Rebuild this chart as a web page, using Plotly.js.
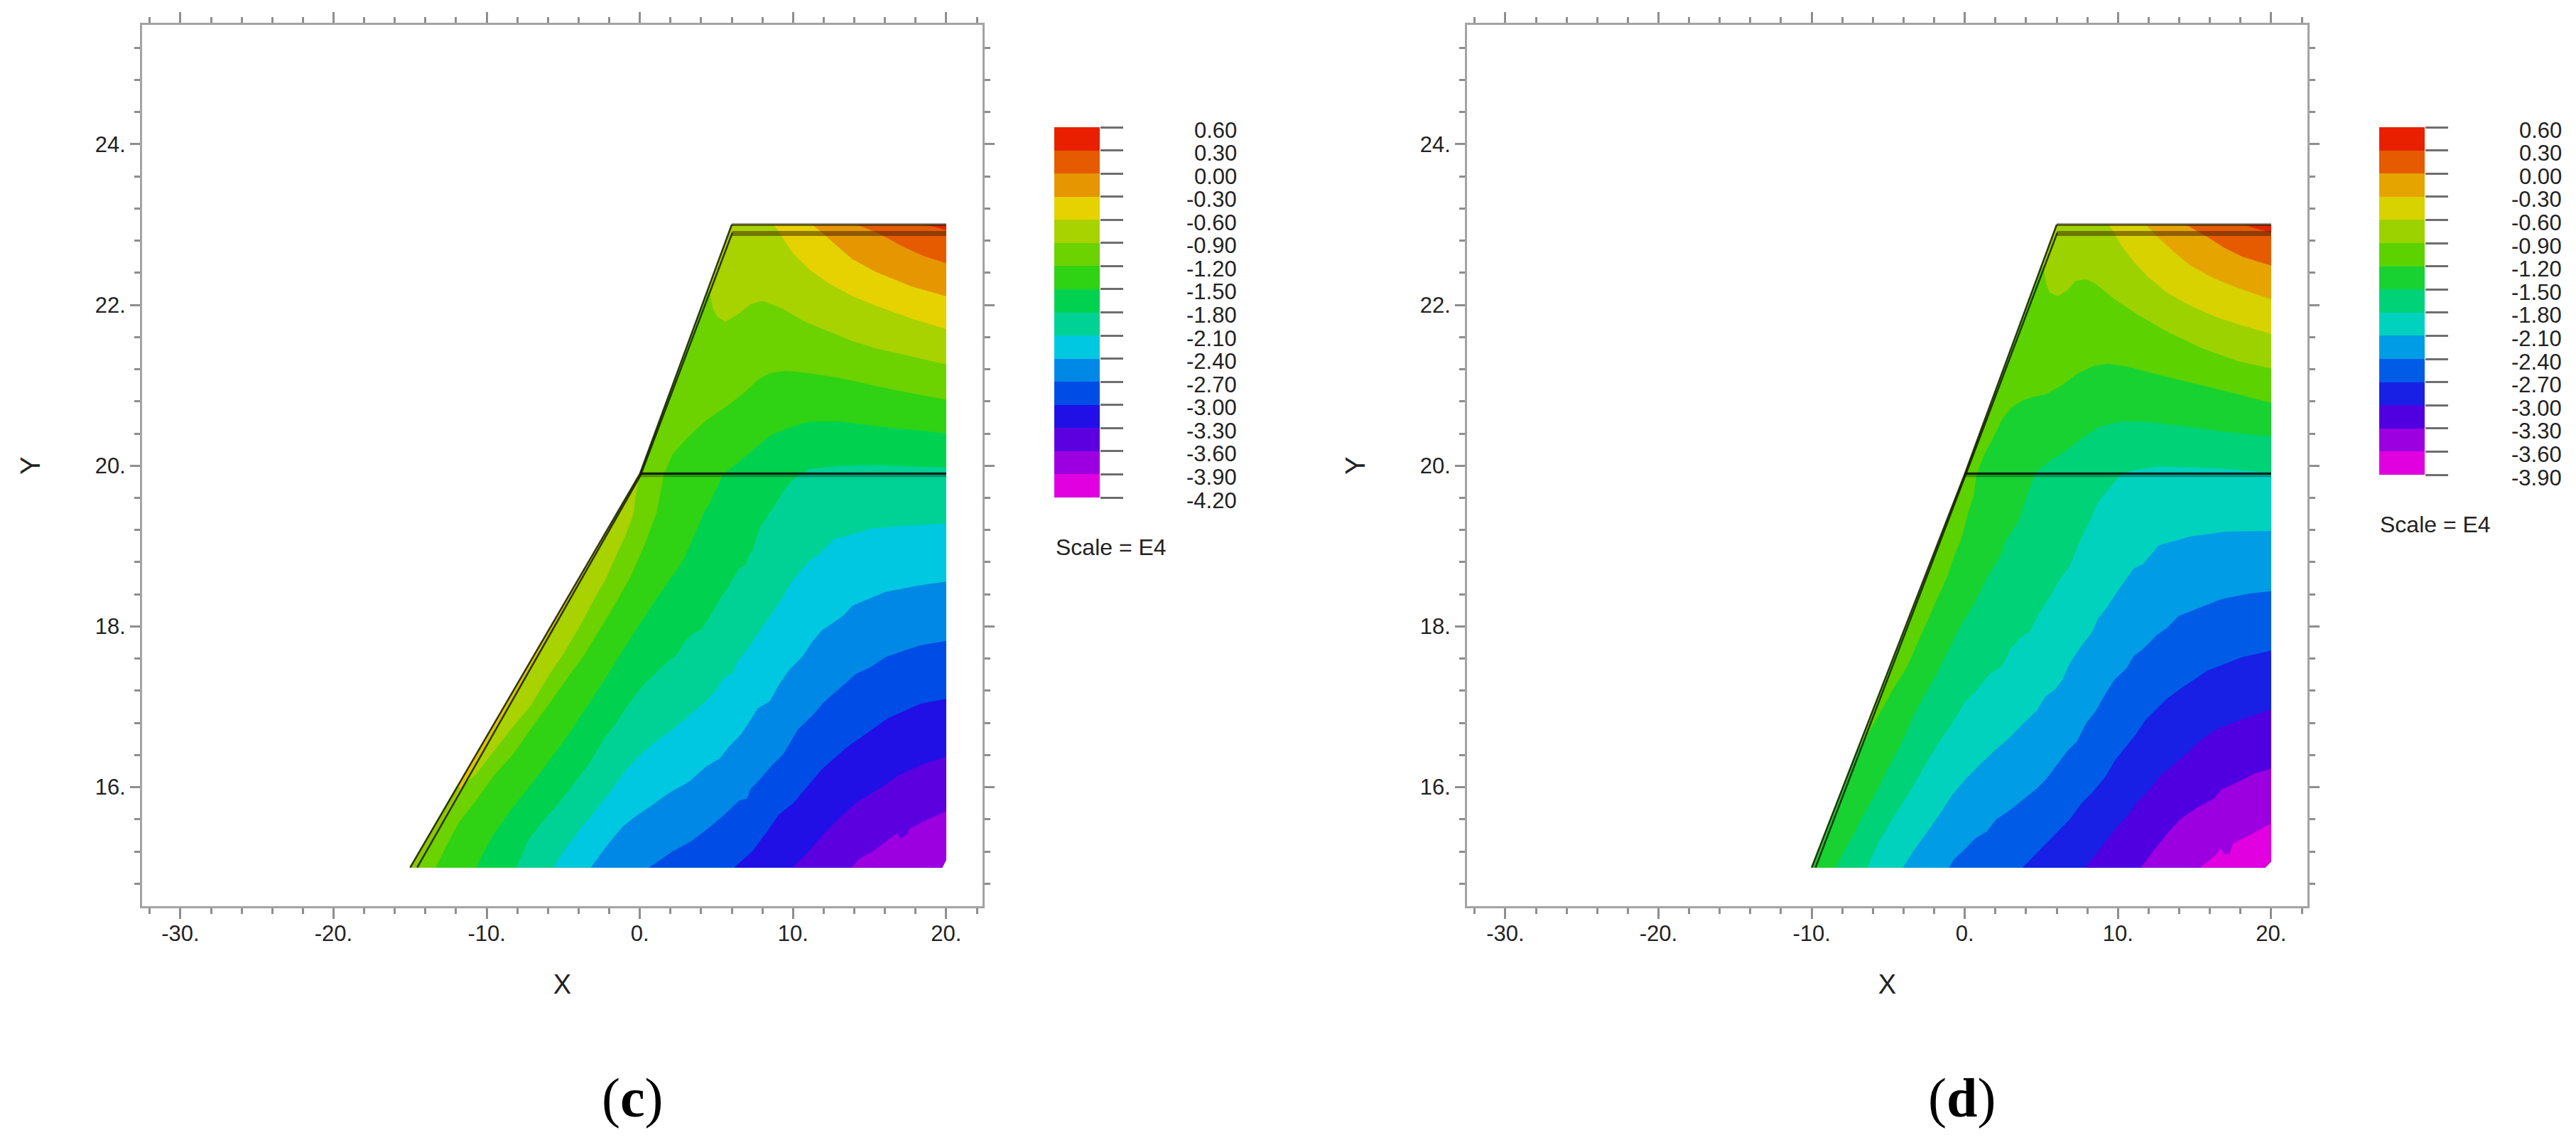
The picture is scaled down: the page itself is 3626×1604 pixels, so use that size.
<!DOCTYPE html>
<html>
<head>
<meta charset="utf-8">
<script src="https://cdn.plot.ly/plotly-3.0.1.min.js"></script>
<style>
  html, body { margin: 0; padding: 0; background: #fff; }
  #chart { width: 3626px; height: 1604px; }
</style>
</head>
<body>
<div id="chart"></div>
<script>
// axis labels
const xTickVals = [-30, -20, -10, 0, 10, 20];
const xTickText = ["-30.", "-20.", "-10.", "0.", "10.", "20."];
const yTickVals = [16, 18, 20, 22, 24];
const yTickText = ["16.", "18.", "20.", "22.", "24."];

// colour bars, top to bottom
const levelsC = [0.6, 0.3, 0, -0.3, -0.6, -0.9, -1.2, -1.5, -1.8, -2.1, -2.4, -2.7, -3.0, -3.3, -3.6, -3.9, -4.2];
const levelTextC = ["0.60", "0.30", "0.00", "-0.30", "-0.60", "-0.90", "-1.20", "-1.50", "-1.80", "-2.10", "-2.40", "-2.70", "-3.00", "-3.30", "-3.60", "-3.90", "-4.20"];
const colorsC = ["#E82000", "#E65A00", "#E69600", "#E6D200", "#A8D200", "#6CD200", "#30D214", "#00D250", "#00D296", "#00C8E0", "#0088E6", "#004CE6", "#2010E6", "#5C00E0", "#9C00E0", "#E000E0"];
const levelsD = [0.6, 0.3, 0, -0.3, -0.6, -0.9, -1.2, -1.5, -1.8, -2.1, -2.4, -2.7, -3.0, -3.3, -3.6, -3.9];
const levelTextD = ["0.60", "0.30", "0.00", "-0.30", "-0.60", "-0.90", "-1.20", "-1.50", "-1.80", "-2.10", "-2.40", "-2.70", "-3.00", "-3.30", "-3.60", "-3.90"];
const colorsD = ["#E82000", "#E65A00", "#E6A400", "#D8D200", "#9CD200", "#5CD200", "#18D232", "#00D278", "#00D2BE", "#009CE6", "#005CE6", "#1820E6", "#5000E0", "#9C00E0", "#E000E0"];

// dam outlines
const damCx = [-15, 0, 6, 20, 20, 19.73];
const damCy = [15, 19.9, 23, 23, 15.1, 15];
const damDx = [-10, 0, 6, 20, 20, 19.6];
const damDy = [15, 19.9, 23, 23, 15.08, 15];

// panel c, warm contours (right edge to crest)
const c_m06_x = [20, 17.74, 15.42, 13.88, 12.33, 11.1, 10.01, 9.39, 8.75];
const c_m06_y = [21.7, 21.83, 21.99, 22.11, 22.27, 22.435, 22.64, 22.82, 23];
const c_m03_x = [20, 17.74, 15.42, 13.88, 12.8, 12.02, 11.25];
const c_m03_y = [22.11, 22.23, 22.41, 22.57, 22.745, 22.88, 23];
const c_p00_x = [20, 18.52, 16.97, 15.89, 14.96, 14.11];
const c_p00_y = [22.52, 22.61, 22.745, 22.86, 22.94, 23];
const c_p03_x = [20, 19.3, 18.4];
const c_p03_y = [22.93, 22.97, 23];

// panel c, cold contours (right edge to toe)
const c_m09_x = [20, 17.74, 15.42, 13.88, 12.33, 10.79, 9.24, 8, 7.23, 6.46, 5.61, 5.07, 4.76, 4.6, 4.45, 0, -0.26, -0.43, -0.94, -1.51, -2.2, -2.98, -3.9, -4.99, -5.91, -7.15, -8.54, -9.63, -10.71, -11.33, -11.75, -15];
const c_m09_y = [21.26, 21.36, 21.46, 21.55, 21.67, 21.79, 21.96, 22.05, 22.01, 21.89, 21.79, 21.85, 21.96, 22.11, 22.2, 19.9, 19.645, 19.39, 19.13, 18.9, 18.6, 18.34, 18.01, 17.66, 17.4, 17.01, 16.69, 16.42, 16.16, 16.06, 16.06, 15];
const c_m12_x = [20, 17.74, 15.42, 13.1, 11.1, 9.55, 8.47, 7.69, 6.77, 5.68, 4.29, 3.06, 2.13, 1.59, 1.35, 1.12, 0.82, 0.32, 0.04, -0.58, -1.43, -2.36, -3.6, -4.68, -5.91, -7.15, -8.23, -9.47, -10.71, -11.79, -12.56, -13.34];
const c_m12_y = [20.82, 20.9, 20.99, 21.09, 21.15, 21.18, 21.15, 21.065, 20.9, 20.74, 20.56, 20.34, 20.14, 19.9, 19.665, 19.43, 19.28, 19.02, 18.9, 18.63, 18.34, 18.04, 17.66, 17.37, 17.04, 16.72, 16.42, 16.16, 15.83, 15.57, 15.3, 15];
const c_m15_x = [20, 17.74, 15.42, 13.1, 11.1, 9.55, 8.47, 7.38, 6.15, 5.45, 5.07, 4.6, 4.21, 3.55, 2.74, 1.2, -0.35, -1.43, -2.51, -3.75, -4.99, -6.22, -7.46, -8.54, -9.63, -10.71];
const c_m15_y = [20.4, 20.45, 20.49, 20.55, 20.55, 20.46, 20.37, 20.195, 20, 19.9, 19.75, 19.55, 19.43, 19.13, 18.79, 18.38, 17.93, 17.6, 17.28, 16.92, 16.57, 16.25, 15.95, 15.69, 15.39, 15];
const c_m18_x = [20, 17.74, 15.42, 13.1, 11.1, 10.01, 9.39, 8.85, 8.54, 7.86, 7.36, 7.15, 6.92, 6.46, 5.84, 5.22, 4.6, 3.98, 3.44, 2.9, 2.36, 1.97, 1.2, 0.27, -0.5, -0.97, -1.43, -2.36, -3.29, -4.21, -5.3, -6.38, -7.31, -8.08];
const c_m18_y = [19.975, 19.99, 20.01, 20, 19.96, 19.83, 19.69, 19.52, 19.43, 19.24, 18.95, 18.9, 18.77, 18.72, 18.515, 18.34, 18.13, 17.955, 17.91, 17.81, 17.63, 17.59, 17.45, 17.28, 17.1, 16.97, 16.83, 16.6, 16.3, 16.07, 15.8, 15.57, 15.33, 15];
const c_m21_x = [20, 17.16, 15.15, 13.9, 12.64, 11.71, 11.1, 10.48, 9.86, 9.24, 8.62, 8.16, 7.54, 6.92, 6.38, 6.07, 5.53, 4.91, 4.29, 3.21, 2.13, 1.05, 0.12, -0.97, -1.9, -2.98, -3.9, -4.83, -5.68];
const c_m21_y = [19.28, 19.25, 19.22, 19.15, 19.08, 18.9, 18.82, 18.69, 18.54, 18.34, 18.16, 18.04, 17.87, 17.69, 17.57, 17.42, 17.37, 17.19, 17.07, 16.89, 16.72, 16.57, 16.42, 16.2, 15.95, 15.69, 15.48, 15.24, 15];
const c_m24_x = [20, 18.36, 16.04, 15.27, 13.88, 13.26, 11.87, 11.25, 10.63, 9.7, 9.09, 8.47, 7.69, 7.23, 6.61, 5.84, 5.22, 4.29, 3.21, 1.82, 0.74, -0.35, -1.12, -2.05, -3.21];
const c_m24_y = [18.56, 18.515, 18.43, 18.37, 18.26, 18.13, 17.95, 17.81, 17.63, 17.45, 17.28, 17.07, 16.98, 16.84, 16.66, 16.51, 16.36, 16.25, 16.07, 15.92, 15.77, 15.63, 15.51, 15.3, 15];
const c_m27_x = [20, 18.21, 16.04, 15.11, 14.11, 12.95, 12.02, 11.25, 10.32, 9.86, 9.39, 8.62, 7.85, 7.23, 7, 6.46, 5.53, 4.6, 3.36, 2.13, 0.58];
const c_m27_y = [17.82, 17.76, 17.62, 17.5, 17.41, 17.22, 17.06, 16.89, 16.72, 16.57, 16.42, 16.27, 16.1, 15.98, 15.86, 15.83, 15.66, 15.51, 15.33, 15.2, 15];
const c_m30_x = [20, 18.36, 16.2, 14.5, 13.41, 11.87, 10.94, 10.01, 9.08, 8.31, 7.38, 6.15];
const c_m30_y = [17.1, 17.04, 16.86, 16.63, 16.48, 16.22, 16.01, 15.8, 15.66, 15.45, 15.21, 15];
const c_m33_x = [20, 18.52, 16.81, 15.89, 14.19, 12.95, 11.87, 10.94, 9.94];
const c_m33_y = [16.38, 16.29, 16.14, 16.01, 15.82, 15.6, 15.39, 15.18, 15];
const c_m36_x = [20, 18.82, 17.59, 17.43, 17.05, 16.81, 16.04, 15.27, 14.34, 13.8];
const c_m36_y = [15.7, 15.6, 15.48, 15.41, 15.36, 15.43, 15.32, 15.21, 15.11, 15];

// panel d, warm contours
const d_m06_x = [20, 17.83, 16.28, 14.73, 13.19, 11.95, 11.02, 10.25, 9.78, 9.4];
const d_m06_y = [21.64, 21.76, 21.86, 21.99, 22.155, 22.35, 22.54, 22.73, 22.88, 23];
const d_m03_x = [20, 17.83, 16.28, 14.73, 13.65, 12.57, 11.8];
const d_m03_y = [22.07, 22.21, 22.33, 22.49, 22.66, 22.85, 23];
const d_p00_x = [20, 18.13, 16.9, 15.81, 14.42];
const d_p00_y = [22.49, 22.6, 22.715, 22.85, 23];
const d_p03_x = [20, 19.2, 18.21];
const d_p03_y = [22.9, 22.94, 23];

// panel d, cold contours
const d_m09_x = [20, 17.83, 15.51, 13.19, 11.33, 9.79, 8.55, 7.93, 7.23, 6.69, 6.07, 5.53, 5.3, 5.19, 5.03, 0, -10];
const d_m09_y = [21.21, 21.3, 21.46, 21.67, 21.875, 22.07, 22.26, 22.32, 22.3, 22.18, 22.11, 22.155, 22.27, 22.405, 22.5, 19.9, 15];
const d_m12_x = [20, 17.83, 14.73, 12.41, 10.71, 9.32, 8.39, 7.31, 6.38, 5.3, 4.53, 3.75, 3.06, 2.44, 1.75, 1.2, 0.74, 0.59, 0.2, -0.26, -0.65, -1.19, -1.81, -2.43, -3.05, -3.82, -4.59, -5.36, -6.14, -6.76, -6.92, -10];
const d_m12_y = [20.78, 20.89, 21.035, 21.14, 21.23, 21.27, 21.24, 21.14, 21.005, 20.89, 20.86, 20.81, 20.725, 20.58, 20.31, 20.11, 19.87, 19.635, 19.4, 19.075, 18.9, 18.6, 18.34, 18.07, 17.81, 17.48, 17.25, 16.98, 16.72, 16.51, 16.51, 15];
const d_m15_x = [20, 17.05, 13.96, 11.64, 10.09, 8.86, 7.77, 6.54, 5.46, 4.61, 4.3, 3.91, 3.52, 2.67, 2.37, 1.44, 0.67, -0.26, -1.03, -1.81, -2.58, -3.35, -3.94, -4.67, -5.3, -6.01, -6.6, -7.33, -8.46];
const d_m15_y = [20.36, 20.42, 20.5, 20.55, 20.55, 20.49, 20.36, 20.18, 20.05, 19.915, 19.75, 19.55, 19.31, 19.075, 18.9, 18.6, 18.31, 18.01, 17.72, 17.42, 17.16, 16.89, 16.63, 16.36, 16.13, 15.86, 15.66, 15.39, 15];
const d_m18_x = [20, 17.05, 14.73, 12.57, 10.87, 10.09, 9.32, 8.7, 8.08, 7.54, 7.16, 6.85, 6.23, 5.46, 4.84, 4.22, 3.75, 2.98, 2.44, 1.59, 0.82, 0.05, -0.88, -1.65, -2.43, -3.2, -3.97, -4.75, -5.67, -6.37];
const d_m18_y = [19.915, 19.96, 19.98, 19.99, 19.94, 19.87, 19.69, 19.55, 19.28, 19.075, 18.9, 18.75, 18.6, 18.34, 18.16, 17.93, 17.88, 17.72, 17.51, 17.4, 17.22, 17.07, 16.78, 16.57, 16.33, 16.07, 15.83, 15.6, 15.3, 15];
const d_m21_x = [20, 17.05, 14.73, 12.66, 12.18, 11.64, 11.02, 10.56, 9.94, 9.32, 8.7, 8.32, 7.47, 6.85, 6.38, 5.92, 5.3, 4.68, 3.75, 2.83, 1.9, 0.82, 0.05, -0.88, -1.65, -2.43, -3.2, -4.05];
const d_m21_y = [19.19, 19.18, 19.12, 19.01, 18.9, 18.78, 18.72, 18.6, 18.43, 18.25, 18.1, 17.93, 17.72, 17.54, 17.34, 17.22, 17.14, 16.95, 16.78, 16.6, 16.45, 16.25, 16.1, 15.89, 15.66, 15.45, 15.25, 15];
const d_m24_x = [20, 18.6, 16.74, 15.51, 13.96, 13.19, 12.57, 11.64, 11.02, 10.56, 9.78, 9.17, 8.55, 7.93, 7.31, 6.69, 5.92, 5.3, 4.68, 3.91, 2.98, 2.05, 1.44, 0.66, -0.11, -0.73, -1.03];
const d_m24_y = [18.44, 18.41, 18.34, 18.25, 18.13, 17.98, 17.9, 17.72, 17.63, 17.48, 17.34, 17.16, 16.95, 16.8, 16.57, 16.45, 16.25, 16.1, 15.98, 15.86, 15.72, 15.6, 15.45, 15.36, 15.21, 15.1, 15];
const d_m27_x = [20, 18.13, 17.05, 15.81, 15.2, 14.11, 13.19, 12.41, 11.8, 11.18, 10.4, 9.79, 9.17, 8.39, 7.62, 6.85, 5.92, 4.99, 3.76];
const d_m27_y = [17.7, 17.62, 17.54, 17.45, 17.37, 17.23, 17.1, 16.95, 16.84, 16.66, 16.48, 16.33, 16.13, 15.95, 15.8, 15.6, 15.42, 15.24, 15];
const d_m30_x = [20, 18.29, 16.43, 15.51, 14.11, 12.88, 11.95, 11.33, 10.56, 9.94, 8.86, 7.85];
const d_m30_y = [16.97, 16.86, 16.72, 16.6, 16.36, 16.16, 15.95, 15.83, 15.63, 15.51, 15.24, 15];
const d_m33_x = [20, 18.91, 17.67, 16.74, 16.28, 15.2, 14.11, 13.34, 12.57, 11.49];
const d_m33_y = [16.23, 16.17, 16.05, 15.97, 15.86, 15.75, 15.61, 15.45, 15.27, 15];
const d_m36_x = [20, 18.75, 17.52, 17.28, 16.9, 16.74, 16.28, 15.35];
const d_m36_y = [15.55, 15.42, 15.3, 15.17, 15.17, 15.24, 15.14, 15];

const W = 3626, H = 1604;
const textColor = "#222222";
const axisGrey = "#a3a3a3";
const tickGrey = "#8e8e8e";

function filled(xs, ys, color, xa, ya) {
  return {
    x: xs, y: ys, xaxis: xa, yaxis: ya,
    type: "scatter", mode: "lines", fill: "toself", fillcolor: color,
    line: { width: 0, color: color },
    hoverinfo: "skip", showlegend: false,
  };
}

function stroke(xs, ys, color, width, xa, ya) {
  return {
    x: xs, y: ys, xaxis: xa, yaxis: ya,
    type: "scatter", mode: "lines",
    line: { width: width, color: color },
    hoverinfo: "skip", showlegend: false,
  };
}

function panelTraces(dam, warm, cold, colors, xa, ya) {
  let traces = [];
  let cornerX = dam[0][dam[0].length - 1];
  let cornerY = dam[1][dam[1].length - 2];
  traces.push(filled(dam[0], dam[1], colors[4], xa, ya));
  // colder side of each line, warmest line first
  cold.forEach(function (c, i) {
    traces.push(filled(c[0].concat([cornerX, 20]), c[1].concat([15, cornerY]), colors[5 + i], xa, ya));
  });
  // warm corners at the crest
  warm.forEach(function (c, i) {
    traces.push(filled(c[0].concat([20]), c[1].concat([23]), colors[3 - i], xa, ya));
  });
  return traces;
}

function barTrace(levels, colors, xa, ya) {
  return {
    type: "bar", xaxis: xa, yaxis: ya,
    x: colors.map(function () { return 0; }),
    y: colors.map(function (c, i) { return levels[i] - levels[i + 1]; }),
    base: colors.map(function (c, i) { return levels[i + 1]; }),
    width: 1,
    marker: { color: colors, line: { width: 0 } },
    hoverinfo: "skip", showlegend: false,
  };
}

let traces = [];
traces = traces.concat(panelTraces(
  [damCx, damCy],
  [[c_m06_x, c_m06_y], [c_m03_x, c_m03_y], [c_p00_x, c_p00_y], [c_p03_x, c_p03_y]],
  [[c_m09_x, c_m09_y], [c_m12_x, c_m12_y], [c_m15_x, c_m15_y], [c_m18_x, c_m18_y], [c_m21_x, c_m21_y],
   [c_m24_x, c_m24_y], [c_m27_x, c_m27_y], [c_m30_x, c_m30_y], [c_m33_x, c_m33_y], [c_m36_x, c_m36_y]],
  colorsC, "x", "y"));
traces = traces.concat(panelTraces(
  [damDx, damDy],
  [[d_m06_x, d_m06_y], [d_m03_x, d_m03_y], [d_p00_x, d_p00_y], [d_p03_x, d_p03_y]],
  [[d_m09_x, d_m09_y], [d_m12_x, d_m12_y], [d_m15_x, d_m15_y], [d_m18_x, d_m18_y], [d_m21_x, d_m21_y],
   [d_m24_x, d_m24_y], [d_m27_x, d_m27_y], [d_m30_x, d_m30_y], [d_m33_x, d_m33_y], [d_m36_x, d_m36_y]],
  colorsD, "x2", "y2"));

// liner strip on the lower slope of panel c, greener towards the toe
traces.push(filled([-15, -14.54, 0], [15, 15, 19.9], "#DCC400", "x", "y"));
traces.push(filled([-15, -14.54, -11.7, -12], [15, 15, 16, 16], "#8CC800", "x", "y"));

[["x", "y", -15, -14.54], ["x2", "y2", -10, -9.75]].forEach(function (p) {
  let xa = p[0], ya = p[1];
  traces.push(stroke([6, 20], [23.012, 23.012], "rgba(130,130,130,0.7)", 2, xa, ya));
  traces.push(stroke([6, 20], [22.995, 22.995], "rgba(50,40,0,0.8)", 2.5, xa, ya));
  traces.push(stroke([6.02, 20], [22.89, 22.89], "rgba(60,30,0,0.5)", 7, xa, ya));
  traces.push(stroke([0, 20], [19.88, 19.88], "rgba(0,0,0,0.28)", 5, xa, ya));
  traces.push(stroke([0, 20], [19.903, 19.903], "rgba(0,0,0,0.85)", 3, xa, ya));
  traces.push(stroke([p[2], 0, 6], [15, 19.9, 23], "rgba(20,25,0,0.85)", 2.5, xa, ya));
  traces.push(stroke([p[3], 0.04, 6.04], [15, 19.88, 22.9], "rgba(20,25,0,0.85)", 2.5, xa, ya));
});

traces.push(barTrace(levelsC, colorsC, "x3", "y3"));
traces.push(barTrace(levelsD, colorsD, "x4", "y4"));

function plotAxisX(left, right, anchor) {
  return {
    domain: [left / W, right / W], anchor: anchor,
    range: [-32.5, 22.37], zeroline: false, showgrid: false,
    showline: true, linecolor: axisGrey, linewidth: 3, mirror: "ticks",
    ticks: "outside", ticklen: 15, tickwidth: 3, tickcolor: tickGrey,
    tickmode: "array", tickvals: xTickVals, ticktext: xTickText,
    ticklabelstandoff: -6,
    tickfont: { family: "Liberation Sans", size: 31, color: textColor },
    minor: { dtick: 2, tick0: 0, ticks: "outside", ticklen: 8, tickwidth: 3, tickcolor: tickGrey, showgrid: false },
    title: { text: "X", font: { family: "Liberation Sans", size: 38, color: textColor }, standoff: 42 },
  };
}

function plotAxisY(anchor) {
  return {
    domain: [1 - 1275 / H, 1 - 35 / H], anchor: anchor,
    range: [14.52, 25.485], zeroline: false, showgrid: false,
    showline: true, linecolor: axisGrey, linewidth: 3, mirror: "ticks",
    ticks: "outside", ticklen: 14, tickwidth: 3, tickcolor: tickGrey,
    tickmode: "array", tickvals: yTickVals, ticktext: yTickText,
    tickfont: { family: "Liberation Sans", size: 31, color: textColor },
    minor: { dtick: 0.4, tick0: 0, ticks: "outside", ticklen: 8, tickwidth: 3, tickcolor: tickGrey, showgrid: false },
    title: { text: "Y", font: { family: "Liberation Sans", size: 38, color: textColor }, standoff: 66 },
  };
}

function barAxisX(left, right, anchor) {
  return { domain: [left / W, right / W], anchor: anchor, range: [-0.5, 0.5], visible: false, fixedrange: true };
}

function barAxisY(bottom, levels, anchor) {
  return {
    domain: [1 - bottom / H, 1 - 179 / H], anchor: anchor, side: "right",
    range: [levels[levels.length - 1], levels[0]],
    zeroline: false, showgrid: false, showline: false, showticklabels: false,
    ticks: "outside", ticklen: 32, tickwidth: 2.5, tickcolor: "#6e6e6e",
    tickmode: "array", tickvals: levels,
  };
}

function barLabels(levels, labels, right, yref) {
  return levels.map(function (v, i) {
    return {
      xref: "paper", yref: yref, x: right / W, y: v, yshift: -4,
      xanchor: "right", yanchor: "middle", showarrow: false, text: labels[i],
      font: { family: "Liberation Sans", size: 31, color: textColor },
    };
  });
}

function note(text, px, py, anchor, font) {
  return {
    xref: "paper", yref: "paper", x: px / W, y: 1 - py / H,
    xanchor: anchor, yanchor: "middle", showarrow: false, text: text, font: font,
  };
}

const scaleFont = { family: "Liberation Sans", size: 32, color: textColor };
const panelFont = { family: "Liberation Serif", size: 78, color: "#000000" };

let annotations = barLabels(levelsC, levelTextC, 1743, "y3")
  .concat(barLabels(levelsD, levelTextD, 3608, "y4"))
  .concat([
    note("Scale = E4", 1484, 770, "left", scaleFont),
    note("Scale = E4", 3348, 738, "left", scaleFont),
    note("(<b>c</b>)", 890, 1544, "center", panelFont),
    note("(<b>d</b>)", 2761, 1544, "center", panelFont),
  ]);

let layout = {
  width: W, height: H,
  margin: { l: 0, r: 0, t: 0, b: 0, pad: 0 },
  paper_bgcolor: "#ffffff", plot_bgcolor: "#ffffff",
  showlegend: false, hovermode: false, barmode: "overlay", bargap: 0,
  xaxis: plotAxisX(200, 1383, "y"),
  yaxis: plotAxisY("x"),
  xaxis2: plotAxisX(2065, 3248, "y2"),
  yaxis2: plotAxisY("x2"),
  xaxis3: barAxisX(1484, 1548, "y3"),
  yaxis3: barAxisY(700, levelsC, "x3"),
  xaxis4: barAxisX(3349, 3413, "y4"),
  yaxis4: barAxisY(668, levelsD, "x4"),
  annotations: annotations,
};

Plotly.newPlot("chart", traces, layout, { displayModeBar: false, responsive: false });
</script>
</body>
</html>
